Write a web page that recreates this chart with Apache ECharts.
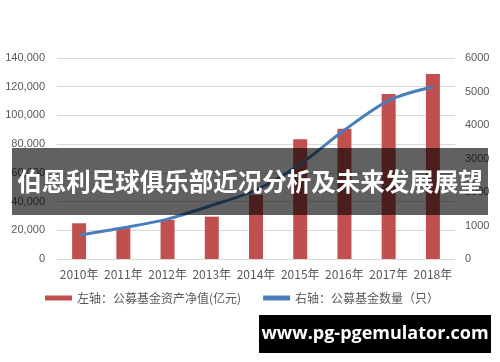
<!DOCTYPE html>
<html><head><meta charset="utf-8">
<script src="https://cdn.jsdelivr.net/npm/echarts@6/dist/echarts.min.js"></script>
<style>html,body{margin:0;padding:0;background:#fff}#c{width:500px;height:362px}</style>
</head><body><div id="c"></div>
<script>
var categories = ['2010年','2011年','2012年','2013年','2014年','2015年','2016年','2017年','2018年'];
var netAssets = [24900, 21500, 27200, 29500, 44800, 83400, 90800, 114900, 128900];
var fundCount = [716, 935, 1190, 1600, 2060, 2830, 3850, 4730, 5140];
var leftTicks = {min: 0, max: 140000, interval: 20000};
var rightTicks = {min: 0, max: 6000, interval: 1000};
var seriesNames = ['左轴：公募基金资产净值(亿元)', '右轴：公募基金数量（只）'];
var bannerTitle = '伯恩利足球俱乐部近况分析及未来发展展望';
var watermark = 'www.pg-pgemulator.com';

var chart = echarts.init(document.getElementById('c'));
var labelColor = '#595959';
chart.setOption({
  animation: false,
  grid: {left: 57, right: 45, top: 58, bottom: 103},
  legend: {
    bottom: 53, left: 40,
    itemWidth: 27, itemHeight: 5, itemGap: 22,
    textStyle: {color: '#595959', fontSize: 12, fontFamily: 'Noto Sans CJK SC'},
    data: [{name: seriesNames[0], icon: 'rect'}, {name: seriesNames[1], icon: 'rect'}]
  },
  xAxis: {
    type: 'category', data: categories,
    axisLine: {show: false}, axisTick: {show: false},
    axisLabel: {color: labelColor, fontSize: 12, margin: 9, interval: 0, fontFamily: 'Noto Sans CJK SC'}
  },
  yAxis: [
    {type: 'value', min: leftTicks.min, max: leftTicks.max, interval: leftTicks.interval,
     axisLine: {show: false}, axisTick: {show: false},
     splitLine: {lineStyle: {color: '#d9d9d9', width: 1}},
     axisLabel: {color: labelColor, fontSize: 11, margin: 12,
       formatter: function(v){ return v.toLocaleString('en-US'); }}},
    {type: 'value', min: rightTicks.min, max: rightTicks.max, interval: rightTicks.interval,
     axisLine: {show: false}, axisTick: {show: false}, splitLine: {show: false},
     axisLabel: {color: labelColor, fontSize: 11, margin: 10,
       formatter: function(v){ return String(v); }}}
  ],
  series: [
    {name: seriesNames[0], type: 'bar', yAxisIndex: 0, data: netAssets,
     barWidth: 14, itemStyle: {color: '#c0504d'}},
    {name: seriesNames[1], type: 'line', yAxisIndex: 1, data: fundCount,
     smooth: 0.3, symbol: 'none', lineStyle: {color: '#4a7ebb', width: 3},
     itemStyle: {color: '#4a7ebb'}}
  ],
  graphic: [
    {type: 'rect', z: 100, shape: {x: 12, y: 148, width: 476, height: 67},
     style: {fill: 'rgba(0,0,0,0.62)'}},
    {type: 'text', z: 101, x: 250, y: 182,
     style: {text: bannerTitle, fill: '#fff', font: 'bold 24.5px "Noto Sans CJK SC"',
       textAlign: 'center', textVerticalAlign: 'middle'}},
    {type: 'rect', z: 100, shape: {x: 259, y: 315, width: 232, height: 38},
     style: {fill: '#000'}},
    {type: 'text', z: 101, x: 375, y: 334,
     style: {text: watermark, fill: '#fff', font: 'bold 18px "Open Sans"',
       textAlign: 'center', textVerticalAlign: 'middle'}}
  ]
});
</script></body></html>
